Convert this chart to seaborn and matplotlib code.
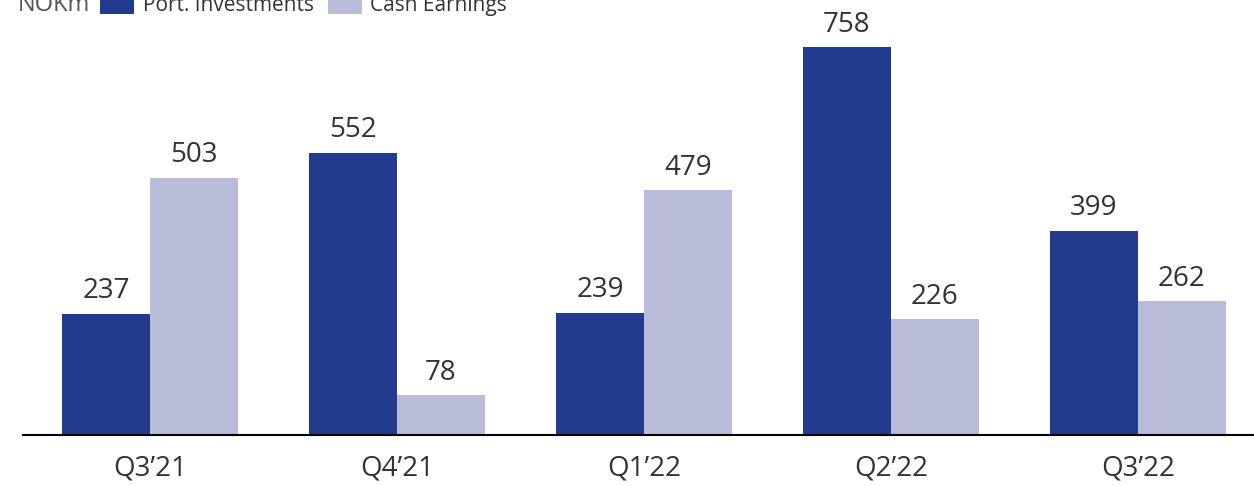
import pandas as pd
import matplotlib.pyplot as plt
import seaborn as sns
from matplotlib.patches import Rectangle

# values (NOKm)
quarters = ["Q3\u201921", "Q4\u201921", "Q1\u201922", "Q2\u201922", "Q3\u201922"]
port_investments = [237, 552, 239, 758, 399]
cash_earnings = [503, 78, 479, 226, 262]
series_names = ["Port. Investments", "Cash Earnings"]
colors = ["#223b8f", "#b8bcd9"]

df = pd.DataFrame({
    "Quarter": quarters * 2,
    "Series": [series_names[0]] * 5 + [series_names[1]] * 5,
    "Value": port_investments + cash_earnings,
})

sns.set_style("white")
plt.rcParams["font.family"] = ["Open Sans", "DejaVu Sans"]
text_color = "#333333"
W, H = 1254, 486

fig = plt.figure(figsize=(W / 100, H / 100), dpi=100)
ax = fig.add_axes([23 / W, 51 / H, 1 - 23 / W, 435 / H])

sns.barplot(data=df, x="Quarter", y="Value", hue="Series", palette=colors,
            width=0.713, saturation=1, ax=ax, legend=False,
            edgecolor="none", linewidth=0)

for cont in ax.containers:
    ax.bar_label(cont, fmt="%d", padding=6, fontsize=20, color=text_color)

ax.set_xlim(-0.514, 4.47)
ax.set_ylim(0, 850)
ax.set_xlabel("")
ax.set_ylabel("")
ax.set_yticks([])
ax.tick_params(axis="x", labelsize=20, colors=text_color, length=0, pad=14)
for s in ["top", "right", "left"]:
    ax.spines[s].set_visible(False)
ax.spines["bottom"].set_color("black")
ax.spines["bottom"].set_linewidth(1.5)

# legend row, partly above the visible area as in the reference
base_y = 1 - 11 / H
fig.text(18 / W, base_y, "NOKm", fontsize=17, color="#555555", va="baseline", ha="left")
legend_items = [(100, 143, colors[0], series_names[0]), (328, 370, colors[1], series_names[1])]
for box_x, txt_x, c, name in legend_items:
    fig.add_artist(Rectangle((box_x / W, 1 - 14 / H), 34 / W, 30 / H,
                             transform=fig.transFigure, facecolor=c, edgecolor="none"))
    fig.text(txt_x / W, base_y, name, fontsize=15, color=text_color, va="baseline", ha="left")

fig.savefig("out.png", dpi=100)
